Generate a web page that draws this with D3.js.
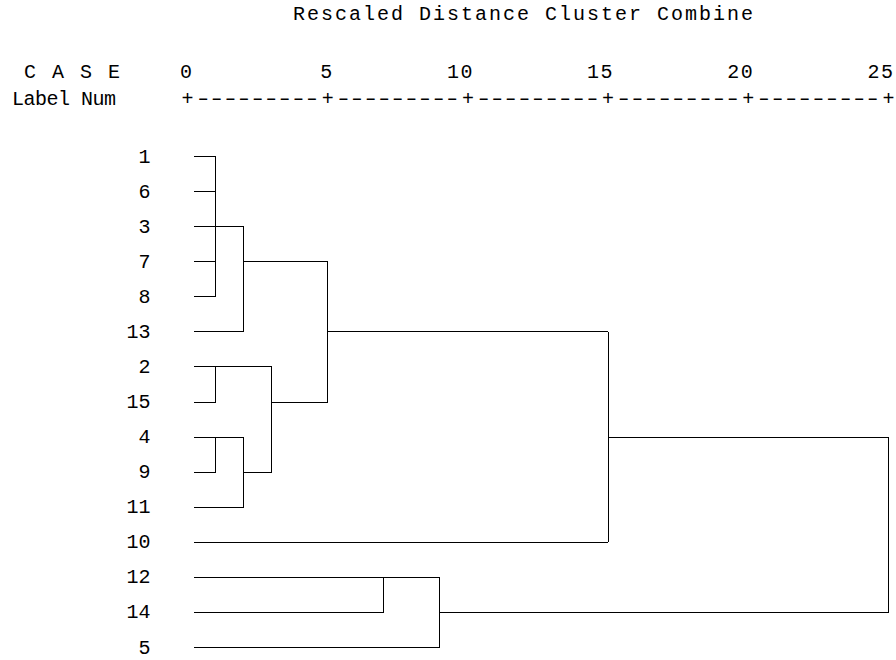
<!DOCTYPE html>
<html>
<head>
<meta charset="utf-8">
<script src="https://cdn.jsdelivr.net/npm/d3@7"></script>
<style>
  body { margin: 0; background: #fff; }
  svg { display: block; }
  .txt { font-family: "Liberation Mono", "Courier New", monospace; font-size: 20px; fill: #000; }
  .link { fill: none; stroke: #000; stroke-width: 1; shape-rendering: crispEdges; }
</style>
</head>
<body>
<div id="graf"></div>
<script>
// case order as listed down the dendrogram
const cases = ["1", "6", "3", "7", "8", "13", "2", "15", "4", "9", "11", "10", "12", "14", "5"]

// merges: children (case labels or "m<index>"), rescaled distance, row where the joined branch leaves
const mergeChildren = [
  ["1", "6", "3", "7", "8"],
  ["m0", "13"],
  ["2", "15"],
  ["4", "9"],
  ["m3", "11"],
  ["m2", "m4"],
  ["m1", "m5"],
  ["m6", "10"],
  ["12", "14"],
  ["m8", "5"],
  ["m7", "m9"]
]
const mergeHeights = [1, 2, 1, 1, 2, 3, 5, 15, 7, 9, 25]
const mergeRows = ["3", "7", "2", "4", "9", "15", "13", "4", "12", "14", null]

const ticks = [0, 5, 10, 15, 20, 25]

const W = 896
const H = 660

const svg = d3.select("#graf")
  .append("svg")
  .attr("width", W)
  .attr("height", H)

const x = d3.scaleLinear().domain([0, 25]).range([187.5, 888.5])
const y = d3.scalePoint().domain(cases).range([156.5, 647.5])

const leafGap = 6

// title + header
svg.append("text")
  .attr("class", "txt")
  .attr("x", 293)
  .attr("y", 20)
  .attr("textLength", 460)
  .attr("lengthAdjust", "spacing")
  .text("Rescaled Distance Cluster Combine")

svg.append("text")
  .attr("class", "txt")
  .attr("x", 24)
  .attr("y", 78)
  .attr("textLength", 96)
  .attr("lengthAdjust", "spacing")
  .text("C A S E")

svg.append("text")
  .attr("class", "txt")
  .attr("x", 12)
  .attr("y", 105)
  .attr("textLength", 104)
  .attr("lengthAdjust", "spacing")
  .text("Label  Num")

svg.selectAll(".tick")
  .data(ticks)
  .join("text")
  .attr("class", "txt tick")
  .attr("x", (d) => x(d) + 6)
  .attr("y", 78)
  .attr("text-anchor", "end")
  .attr("letter-spacing", 1.5)
  .text((d) => d)

// +---------+ ruler: a "+" at every tick, nine dashes between
const cw = (x(25) - x(0)) / 50
const dashStretch = 1.45

svg.selectAll(".plus")
  .data(ticks)
  .join("text")
  .attr("class", "txt plus")
  .attr("x", (d) => x(d))
  .attr("y", 105)
  .attr("text-anchor", "middle")
  .text("+")

svg.selectAll(".dash")
  .data(ticks.slice(0, -1))
  .join("text")
  .attr("class", "txt dash")
  .attr("transform", (d) => `translate(${x(d) + cw / 2},105) scale(${dashStretch},1)`)
  .attr("textLength", (9 * cw) / dashStretch)
  .attr("lengthAdjust", "spacing")
  .text("---------")

// case numbers
svg.selectAll(".case")
  .data(cases)
  .join("text")
  .attr("class", "txt case")
  .attr("x", x(0) - 37)
  .attr("y", (d) => y(d) + 6)
  .attr("text-anchor", "end")
  .text((d) => d)

// links
const node = (id) => {
  if (id.startsWith("m")) {
    const i = +id.slice(1)
    return { x0: x(mergeHeights[i]), y0: y(mergeRows[i]) }
  }
  return { x0: x(0) + leafGap, y0: y(id) }
}

const links = []
mergeChildren.forEach((kids, i) => {
  const xm = x(mergeHeights[i])
  const ys = kids.map((k) => node(k).y0)
  kids.forEach((k) => {
    const n = node(k)
    links.push(`M${n.x0},${n.y0}H${xm}`)
  })
  links.push(`M${xm},${d3.min(ys)}V${d3.max(ys)}`)
})

svg.selectAll(".link")
  .data(links)
  .join("path")
  .attr("class", "link")
  .attr("d", (d) => d)
</script>
</body>
</html>
